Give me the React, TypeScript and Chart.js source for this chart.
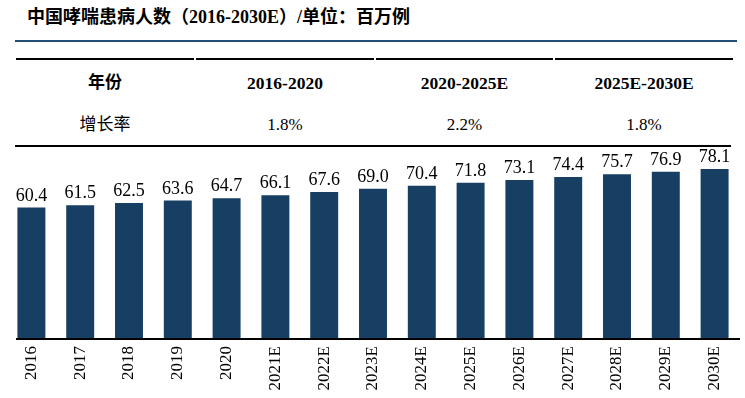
import React, { useEffect, useRef } from "react";
import { Chart, registerables } from "chart.js";

Chart.register(...registerables);

const categories = ["2016", "2017", "2018", "2019", "2020", "2021E", "2022E", "2023E", "2024E", "2025E", "2026E", "2027E", "2028E", "2029E", "2030E"];
const patients = [60.4, 61.5, 62.5, 63.6, 64.7, 66.1, 67.6, 69.0, 70.4, 71.8, 73.1, 74.4, 75.7, 76.9, 78.1];
const titleText = "中国哮喘患病人数（2016-2030E）/单位：百万例";
const tableHeader = ["年份", "2016-2020", "2020-2025E", "2025E-2030E"];
const tableRow = ["增长率", "1.8%", "2.2%", "1.8%"];

const BAR_COLOR = "#163F63";
const SERIF = '"Liberation Serif", "Times New Roman", serif';
const CJK = '"Liberation Serif", "Noto Sans CJK SC", sans-serif';

const valueLabels = {
  id: "valueLabels",
  afterDatasetsDraw(chart: any) {
    const ctx = chart.ctx;
    const meta = chart.getDatasetMeta(0);
    ctx.save();
    ctx.font = `18px ${SERIF}`;
    ctx.fillStyle = "#000";
    ctx.textAlign = "center";
    ctx.textBaseline = "alphabetic";
    meta.data.forEach((bar: any, i: number) => {
      ctx.fillText(patients[i].toFixed(1), bar.x, bar.y - 7);
    });
    // axis base line
    const y = chart.chartArea.bottom;
    ctx.strokeStyle = "#000";
    ctx.lineWidth = 2;
    ctx.beginPath();
    ctx.moveTo(16, y);
    ctx.lineTo(chart.width - 5, y);
    ctx.stroke();
    ctx.restore();
  },
};

const colLefts = [16, 196, 376, 555];
const colRights = [194, 374, 553, 733];

export default function App() {
  const canvasRef = useRef<HTMLCanvasElement | null>(null);

  useEffect(() => {
    if (!canvasRef.current) return;
    const chart = new Chart(canvasRef.current, {
      type: "bar",
      data: {
        labels: categories,
        datasets: [
          {
            data: patients,
            backgroundColor: BAR_COLOR,
            borderWidth: 0,
            categoryPercentage: 0.573,
            barPercentage: 1,
          },
        ],
      },
      options: {
        responsive: false,
        animation: false,
        layout: { padding: { left: 7, right: 6, top: 0, bottom: 0 } },
        plugins: { legend: { display: false }, tooltip: { enabled: false } },
        scales: {
          x: {
            grid: { display: false, drawTicks: false },
            border: { display: false },
            ticks: {
              maxRotation: 90,
              minRotation: 90,
              autoSkip: false,
              padding: 7,
              color: "#000",
              font: { family: SERIF, size: 17 },
            },
            afterFit: (axis: any) => {
              axis.height = 59;
            },
          },
          y: { display: false, min: 0, max: 88.7 },
        },
      },
      plugins: [valueLabels],
    });
    return () => chart.destroy();
  }, []);

  const cellStyle = (i: number, top: number, bold: boolean, cjk: boolean, size: number): React.CSSProperties => ({
    position: "absolute",
    left: colLefts[i],
    width: colRights[i] - colLefts[i],
    top,
    textAlign: "center",
    fontFamily: cjk ? CJK : SERIF,
    fontWeight: bold ? "bold" : "normal",
    fontSize: size,
    lineHeight: "20px",
    color: "#000",
  });

  return (
    <div style={{ position: "absolute", left: 0, top: 0, width: 745, height: 398, background: "#fff", overflow: "hidden" }}>
      <div
        style={{
          position: "absolute",
          left: 27,
          top: 7,
          fontFamily: CJK,
          fontWeight: "bold",
          fontSize: 18,
          lineHeight: "20px",
          color: "#000",
          whiteSpace: "nowrap",
        }}
      >
        {titleText}
      </div>
      <div style={{ position: "absolute", left: 15, top: 40, width: 722, height: 2, background: "#22507A" }} />
      {colLefts.map((l, i) => (
        <div key={"t" + i} style={{ position: "absolute", left: l, top: 58, width: colRights[i] - l, height: 2, background: "#000" }} />
      ))}
      {tableHeader.map((t, i) => (
        <div key={"h" + i} style={cellStyle(i, 73, true, i === 0, i === 0 ? 17 : 17.5)}>
          {t}
        </div>
      ))}
      {tableRow.map((t, i) => (
        <div key={"r" + i} style={cellStyle(i, 115, false, i === 0, 17)}>
          {t}
        </div>
      ))}
      <div style={{ position: "absolute", left: 15, top: 145, width: 716, height: 2, background: "#000" }} />
      <canvas ref={canvasRef} width={745} height={252} style={{ position: "absolute", left: 0, top: 146, width: 745, height: 252 }} />
    </div>
  );
}
